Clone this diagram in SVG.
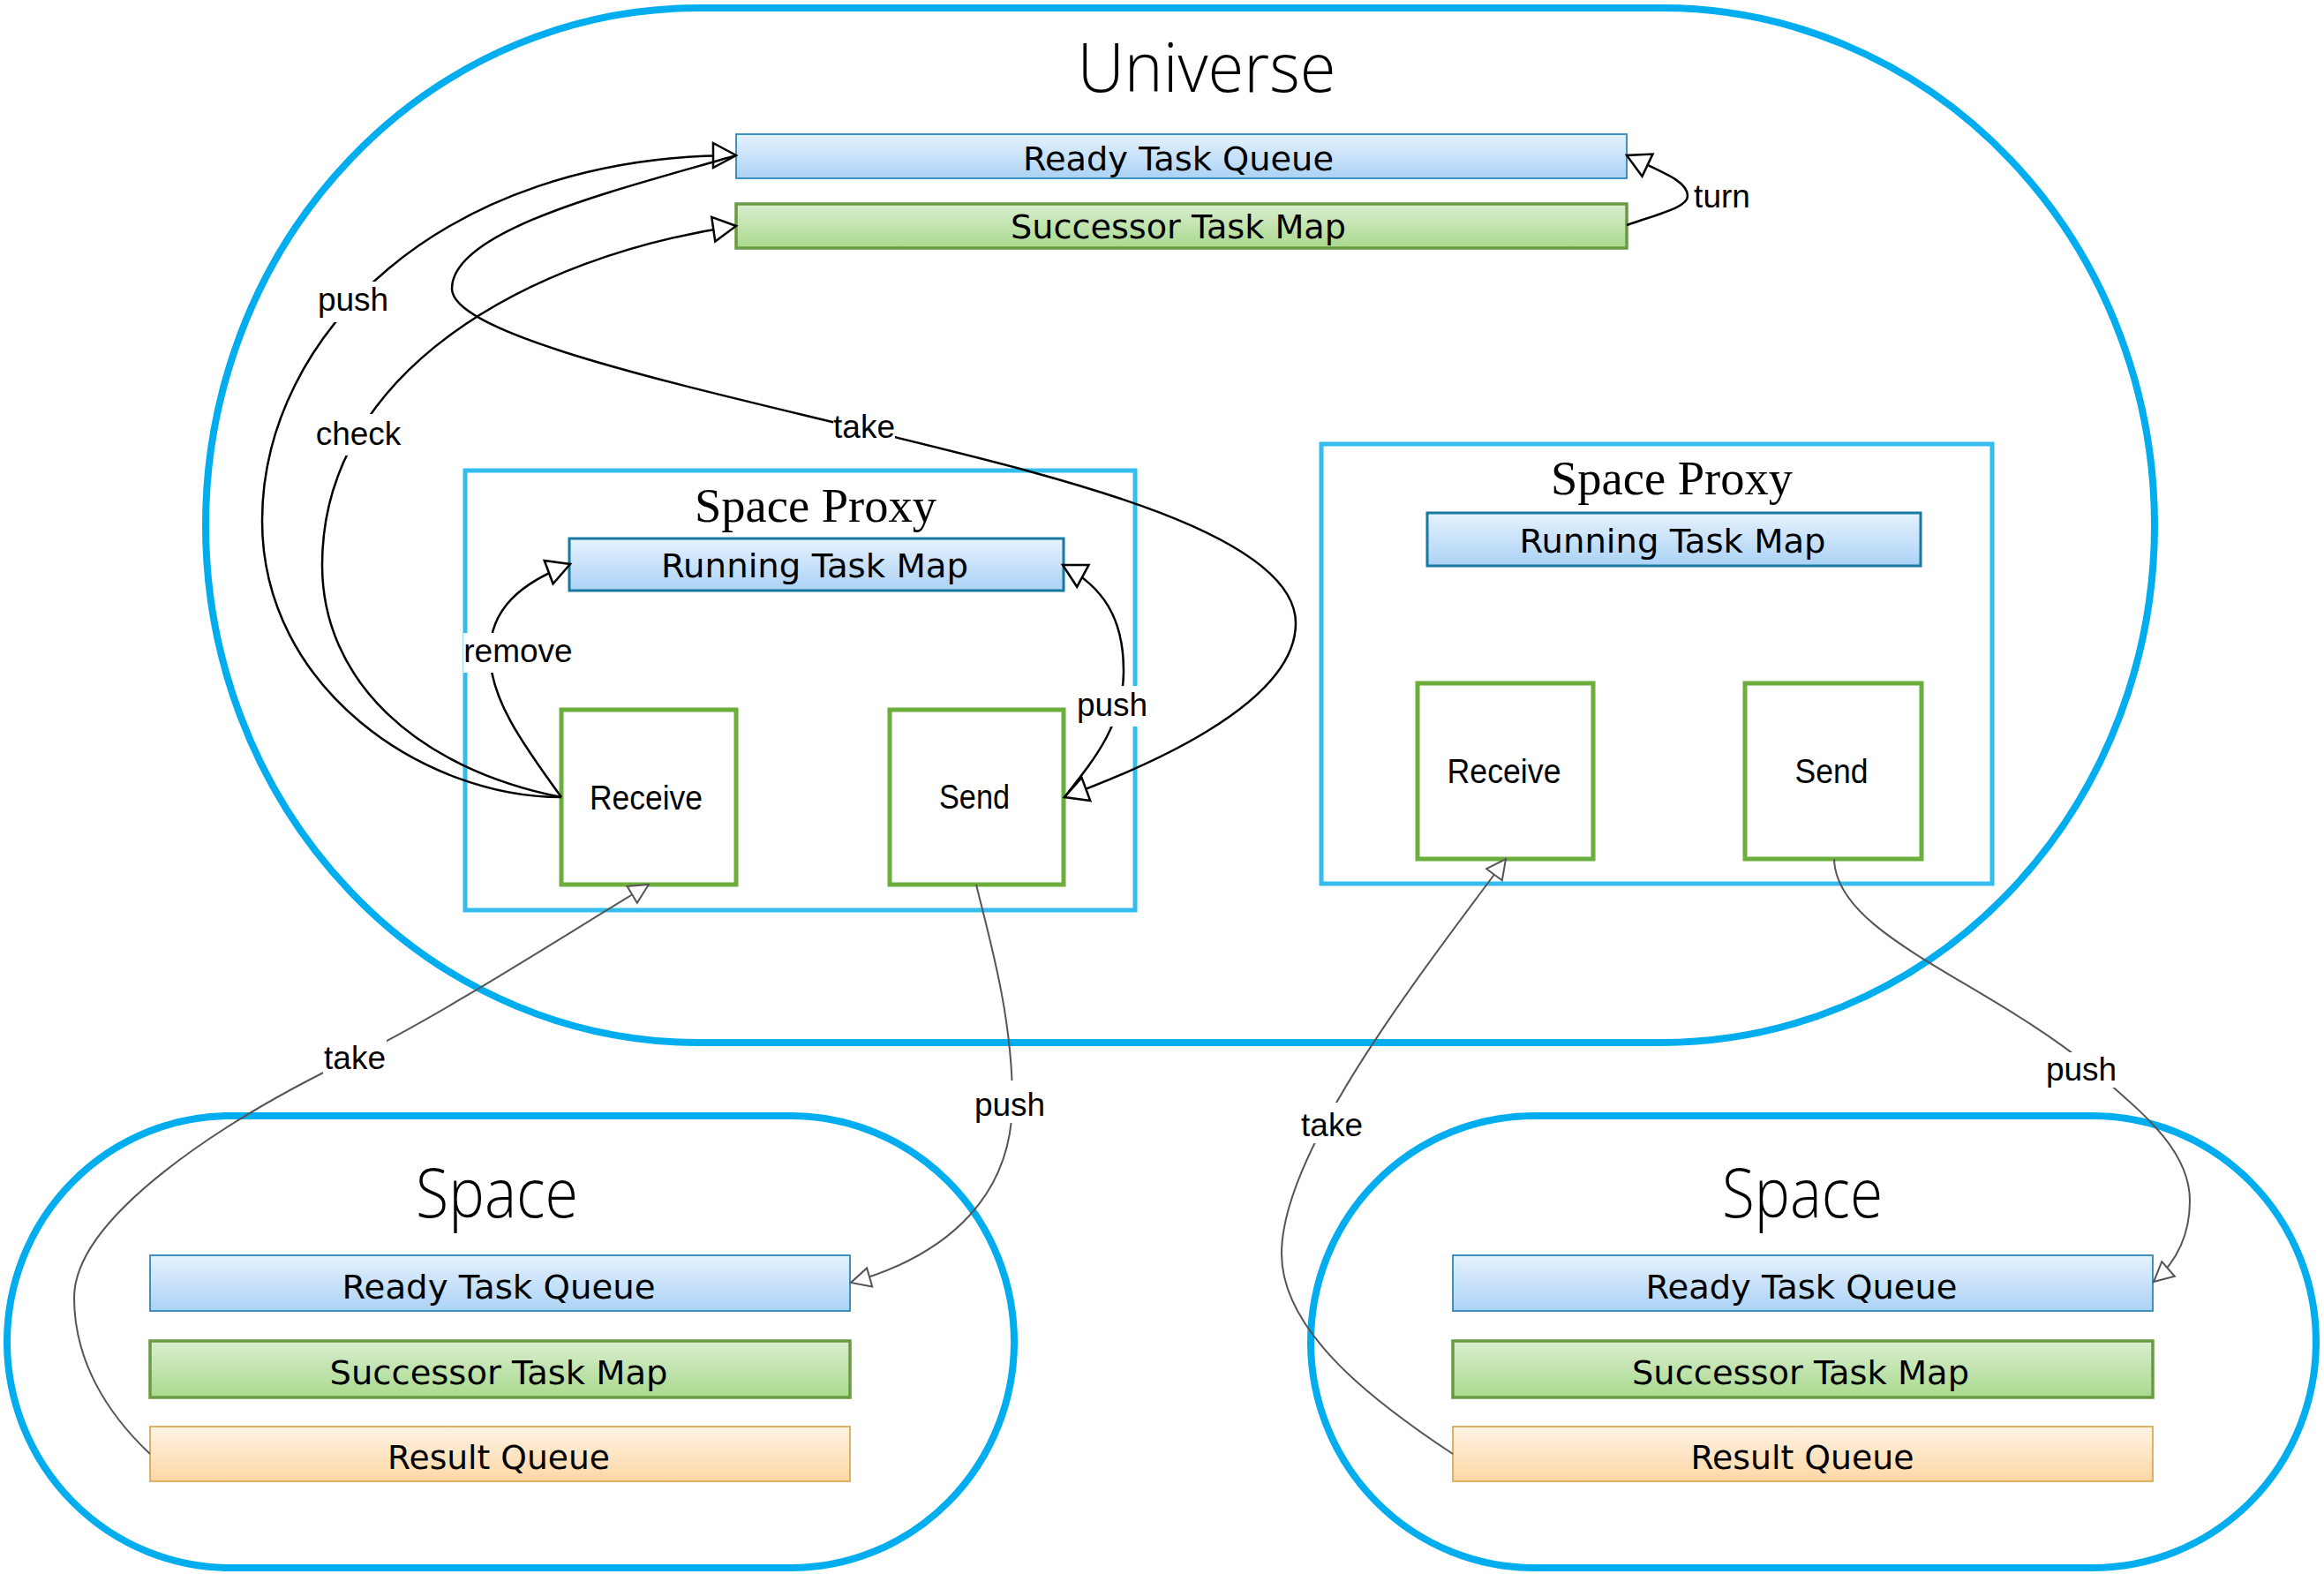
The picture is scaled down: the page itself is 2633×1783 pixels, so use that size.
<svg xmlns="http://www.w3.org/2000/svg" width="2633" height="1783" viewBox="0 0 2633 1783">
<defs>
<linearGradient id="gBlue" x1="0" y1="0" x2="0" y2="1"><stop offset="0" stop-color="#E6F2FD"/><stop offset="1" stop-color="#ABD2F5"/></linearGradient>
<linearGradient id="gGreen" x1="0" y1="0" x2="0" y2="1"><stop offset="0" stop-color="#DAEED0"/><stop offset="1" stop-color="#A9D98D"/></linearGradient>
<linearGradient id="gOrange" x1="0" y1="0" x2="0" y2="1"><stop offset="0" stop-color="#FFF3E5"/><stop offset="1" stop-color="#FDD7A4"/></linearGradient>
<marker id="arrB" markerUnits="userSpaceOnUse" viewBox="-3 -17 32 34" markerWidth="32" markerHeight="34" refX="26" refY="0" orient="auto">
<path d="M0,-14 L26,0 L0,14 Z" fill="#fff" stroke="#000" stroke-width="2.5"/>
</marker>
<marker id="arrG" markerUnits="userSpaceOnUse" viewBox="-3 -14 27 28" markerWidth="27" markerHeight="28" refX="22" refY="0" orient="auto">
<path d="M0,-11 L22,0 L0,11 Z" fill="#fff" stroke="#555" stroke-width="2"/>
</marker>
</defs>
<style>
.outer{fill:#fff;stroke:#00ADEE;stroke-width:8}
.proxy{fill:#fff;stroke:#33BDEE;stroke-width:5}
.io{fill:#fff;stroke:#6BAE3B;stroke-width:5}
.rtq{fill:url(#gBlue);stroke:#2C88BA;stroke-width:1.8}
.rtm{fill:url(#gBlue);stroke:#17799F;stroke-width:3}
.stm{fill:url(#gGreen);stroke:#6A9B42;stroke-width:3.5}
.res{fill:url(#gOrange);stroke:#DCAA55;stroke-width:1.8}
.title{font-family:"Open Sans","Lato",sans-serif;font-weight:300;font-size:78px;fill:#000;text-anchor:middle}
.ptitle{font-family:"Liberation Serif","Times New Roman",serif;font-size:55px;fill:#000;text-anchor:middle}
.body{font-family:"DejaVu Sans","Verdana",sans-serif;font-size:37.5px;fill:#000;text-anchor:middle}
.io-t{font-family:"Liberation Sans",Arial,sans-serif;font-size:39px;fill:#000;text-anchor:middle}
.lbl{font-family:"Liberation Sans",Arial,sans-serif;font-size:37px;fill:#000;text-anchor:middle}
.bg{fill:#fff;stroke:none}
.cb{fill:none;stroke:#000;stroke-width:2.5;marker-end:url(#arrB)}
.cg{fill:none;stroke:#555;stroke-width:2;marker-end:url(#arrG)}
</style>
<rect width="2633" height="1783" fill="#fff"/>

<g id="universe">
<rect class="outer" x="233" y="9" width="2208" height="1172" rx="558" ry="586"/>
<text class="title" x="1367" y="104" textLength="293" lengthAdjust="spacingAndGlyphs">Universe</text>
</g>
<g id="universe-ready-task-queue">
<rect class="rtq" x="834" y="152" width="1009" height="50"/>
<text class="body" x="1335" y="193" textLength="352" lengthAdjust="spacingAndGlyphs">Ready Task Queue</text>
</g>
<g id="universe-successor-task-map">
<rect class="stm" x="834" y="231" width="1009" height="50"/>
<text class="body" x="1335" y="270" textLength="380" lengthAdjust="spacingAndGlyphs">Successor Task Map</text>
</g>

<g id="space-proxy-1">
<rect class="proxy" x="527" y="533" width="759" height="498"/>
<text class="ptitle" x="924" y="591" textLength="274" lengthAdjust="spacingAndGlyphs">Space Proxy</text>
</g>
<g id="running-task-map-1">
<rect class="rtm" x="645" y="610" width="560" height="59"/>
<text class="body" x="923" y="654" textLength="348" lengthAdjust="spacingAndGlyphs">Running Task Map</text>
</g>
<g id="receive-1">
<rect class="io" x="636" y="804" width="198" height="198"/>
<text class="io-t" x="732" y="917" textLength="128" lengthAdjust="spacingAndGlyphs">Receive</text>
</g>
<g id="send-1">
<rect class="io" x="1008" y="804" width="197" height="198"/>
<text class="io-t" x="1104" y="916" textLength="80" lengthAdjust="spacingAndGlyphs">Send</text>
</g>

<g id="space-proxy-2">
<rect class="proxy" x="1497" y="503" width="760" height="498"/>
<text class="ptitle" x="1894" y="560" textLength="274" lengthAdjust="spacingAndGlyphs">Space Proxy</text>
</g>
<g id="running-task-map-2">
<rect class="rtm" x="1617" y="581" width="559" height="60"/>
<text class="body" x="1895" y="626" textLength="347" lengthAdjust="spacingAndGlyphs">Running Task Map</text>
</g>
<g id="receive-2">
<rect class="io" x="1606" y="774" width="199" height="199"/>
<text class="io-t" x="1704" y="887" textLength="129" lengthAdjust="spacingAndGlyphs">Receive</text>
</g>
<g id="send-2">
<rect class="io" x="1977" y="774" width="200" height="199"/>
<text class="io-t" x="2075" y="887" textLength="83" lengthAdjust="spacingAndGlyphs">Send</text>
</g>

<g id="space-1">
<rect class="outer" x="8" y="1264" width="1141" height="512" rx="253" ry="256"/>
<text class="title" x="563" y="1379" textLength="184" lengthAdjust="spacingAndGlyphs">Space</text>
</g>
<g id="space-1-ready-task-queue">
<rect class="rtq" x="170" y="1422" width="793" height="63"/>
<text class="body" x="565" y="1471" textLength="355" lengthAdjust="spacingAndGlyphs">Ready Task Queue</text>
</g>
<g id="space-1-successor-task-map">
<rect class="stm" x="170" y="1519" width="793" height="64"/>
<text class="body" x="565" y="1568" textLength="383" lengthAdjust="spacingAndGlyphs">Successor Task Map</text>
</g>
<g id="space-1-result-queue">
<rect class="res" x="170" y="1616" width="793" height="62"/>
<text class="body" x="565" y="1664" textLength="252" lengthAdjust="spacingAndGlyphs">Result Queue</text>
</g>

<g id="space-2">
<rect class="outer" x="1485" y="1264" width="1139" height="512" rx="253" ry="256"/>
<text class="title" x="2042" y="1379" textLength="182" lengthAdjust="spacingAndGlyphs">Space</text>
</g>
<g id="space-2-ready-task-queue">
<rect class="rtq" x="1646" y="1422" width="793" height="63"/>
<text class="body" x="2041" y="1471" textLength="353" lengthAdjust="spacingAndGlyphs">Ready Task Queue</text>
</g>
<g id="space-2-successor-task-map">
<rect class="stm" x="1646" y="1519" width="793" height="64"/>
<text class="body" x="2040" y="1568" textLength="382" lengthAdjust="spacingAndGlyphs">Successor Task Map</text>
</g>
<g id="space-2-result-queue">
<rect class="res" x="1646" y="1616" width="793" height="62"/>
<text class="body" x="2042" y="1664" textLength="253" lengthAdjust="spacingAndGlyphs">Result Queue</text>
</g>

<g id="connectors">
<path class="cb" d="M636,903 C480,903 297,780 297,590 C297,380 500,176 834,176"/>
<path class="cb" d="M636,903 C470,870 365,770 365,640 C365,420 600,290 834,256"/>
<path class="cb" d="M834,176 C700,215 512,260 512,327 C512,380 780,438 980,487 C1180,536 1468,600 1468,706 C1468,800 1287,873 1206,903"/>
<path class="cb" d="M636,903 C590,840 555,790 555,740 C555,690 590,660 646,639"/>
<path class="cb" d="M1206,903 C1240,860 1273,820 1273,760 C1273,700 1250,665 1204,640"/>
<path class="cb" d="M1843,255 C1880,242 1912,235 1912,222 C1912,205 1883,195 1843,176"/>
<path class="cg" d="M170,1647 C120,1600 84,1540 84,1470 C84,1380 250,1270 403,1197 C500,1150 650,1053 735,1002"/>
<path class="cg" d="M1106,1002 C1120,1060 1147,1150 1147,1247 C1147,1350 1080,1420 964,1453"/>
<path class="cg" d="M1646,1647 C1560,1590 1452,1510 1452,1420 C1452,1300 1620,1090 1706,973"/>
<path class="cg" d="M2078,973 C2080,1060 2250,1110 2372,1212 C2420,1255 2481,1300 2481,1360 C2481,1400 2465,1430 2440,1452"/>
</g>

<g id="connector-labels">
<rect class="bg" x="358" y="319" width="85" height="46"/>
<text class="lbl" x="400" y="352">push</text>
<rect class="bg" x="356" y="469" width="100" height="47"/>
<text class="lbl" x="406" y="504">check</text>
<rect class="bg" x="944" y="464" width="70" height="40"/>
<text class="lbl" x="979" y="496">take</text>
<rect class="bg" x="525" y="717" width="123" height="45"/>
<text class="lbl" x="587" y="750">remove</text>
<rect class="bg" x="1219" y="777" width="82" height="46"/>
<text class="lbl" x="1260" y="811">push</text>
<rect class="bg" x="1918" y="204" width="66" height="38"/>
<text class="lbl" x="1951" y="235">turn</text>
<rect class="bg" x="366" y="1173" width="72" height="46"/>
<text class="lbl" x="402" y="1211">take</text>
<rect class="bg" x="1101" y="1224" width="87" height="48"/>
<text class="lbl" x="1144" y="1264">push</text>
<rect class="bg" x="1472" y="1249" width="74" height="46"/>
<text class="lbl" x="1509" y="1287">take</text>
<rect class="bg" x="2316" y="1192" width="84" height="40"/>
<text class="lbl" x="2358" y="1224">push</text>
</g>
</svg>
